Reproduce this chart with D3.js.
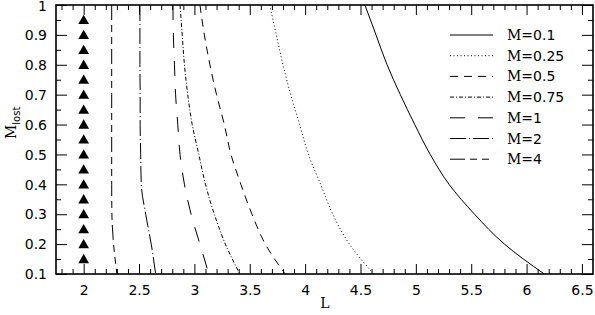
<!DOCTYPE html>
<html>
<head>
<meta charset="utf-8">
<script src="https://cdn.jsdelivr.net/npm/d3@7"></script>
<style>
body{margin:0;background:#fff}
svg{display:block}
.tick text{font-family:"DejaVu Sans",sans-serif;font-size:14px;fill:#000}
</style>
</head>
<body>
<script>
// M_lost sample rows shared by all curves
const mLost = [1, 0.9, 0.8, 0.7, 0.6, 0.5, 0.4, 0.3, 0.2, 0.1]

// L for each mass
const L_m01  = [4.54, 4.64, 4.74, 4.86, 4.99, 5.13, 5.30, 5.53, 5.80, 6.16]
const L_m025 = [3.68, 3.74, 3.80, 3.87, 3.95, 4.03, 4.14, 4.25, 4.40, 4.62]
const L_m05  = [3.05, 3.09, 3.14, 3.20, 3.27, 3.33, 3.42, 3.52, 3.64, 3.82]
const L_m075 = [2.87, 2.89, 2.91, 2.94, 2.98, 3.04, 3.10, 3.18, 3.28, 3.41]
const L_m1   = [2.806, 2.81, 2.82, 2.83, 2.85, 2.87, 2.91, 2.97, 3.05, 3.13]
const L_m2   = [2.508, 2.508, 2.508, 2.51, 2.51, 2.515, 2.52, 2.56, 2.61, 2.65]
const L_m4   = [2.253, 2.253, 2.253, 2.253, 2.253, 2.253, 2.253, 2.255, 2.27, 2.30]

// triangles at L = 2
const triL = 2
const triM = [0.95, 0.9, 0.85, 0.8, 0.75, 0.7, 0.65, 0.6, 0.55, 0.5, 0.45, 0.4, 0.35, 0.3, 0.25, 0.2, 0.15]

const xTicks = [2, 2.5, 3, 3.5, 4, 4.5, 5, 5.5, 6, 6.5]
const yTicks = [0.1, 0.2, 0.3, 0.4, 0.5, 0.6, 0.7, 0.8, 0.9, 1]

const series = [
    {name: "0.1",  L: L_m01,  dash: null},
    {name: "0.25", L: L_m025, dash: "1,2.5"},
    {name: "0.5",  L: L_m05,  dash: "8,6"},
    {name: "0.75", L: L_m075, dash: "4,2,1,2"},
    {name: "1",    L: L_m1,   dash: "15,13"},
    {name: "2",    L: L_m2,   dash: "16,3,1,3"},
    {name: "4",    L: L_m4,   dash: "15,5,7,5,7,5"}
]

const width = 595, height = 315
const pL = 56, pR = 593, pT = 5, pB = 274

const svg = d3.select("body").append("svg")
    .attr("width", width)
    .attr("height", height)

const x = d3.scaleLinear().domain([1.75, 6.6]).range([pL, pR])
const y = d3.scaleLinear().domain([0.1, 1]).range([pB, pT])

const xMinor = d3.range(1.8, 6.6, 0.1).filter(v => Math.abs(v*2 - Math.round(v*2)) > 0.01)
const yMinor = d3.range(0.15, 1, 0.1)

function axisStyle(g){
    g.select(".domain").remove()
    g.selectAll("line").attr("stroke", "#000").attr("stroke-width", 1)
}

// bottom
svg.append("g").attr("transform", `translate(0,${pB})`)
    .call(d3.axisBottom(x).tickValues(xTicks).tickSize(-10).tickPadding(11).tickFormat(d3.format("")))
    .call(axisStyle)
svg.append("g").attr("transform", `translate(0,${pB})`)
    .call(d3.axisBottom(x).tickValues(xMinor).tickSize(-5).tickFormat(""))
    .call(axisStyle)
// top
svg.append("g").attr("transform", `translate(0,${pT})`)
    .call(d3.axisTop(x).tickValues(xTicks).tickSize(-10).tickFormat(""))
    .call(axisStyle)
svg.append("g").attr("transform", `translate(0,${pT})`)
    .call(d3.axisTop(x).tickValues(xMinor).tickSize(-5).tickFormat(""))
    .call(axisStyle)
// left
svg.append("g").attr("transform", `translate(${pL},0)`)
    .call(d3.axisLeft(y).tickValues(yTicks).tickSize(-11).tickPadding(9).tickFormat(d3.format("")))
    .call(axisStyle)
    .call(g => g.selectAll(".tick text").attr("dy", d => d === 1 ? "0.42em" : "0.34em"))
svg.append("g").attr("transform", `translate(${pL},0)`)
    .call(d3.axisLeft(y).tickValues(yMinor).tickSize(-5).tickFormat(""))
    .call(axisStyle)
// right
svg.append("g").attr("transform", `translate(${pR},0)`)
    .call(d3.axisRight(y).tickValues(yTicks).tickSize(-11).tickFormat(""))
    .call(axisStyle)
svg.append("g").attr("transform", `translate(${pR},0)`)
    .call(d3.axisRight(y).tickValues(yMinor).tickSize(-5).tickFormat(""))
    .call(axisStyle)

svg.append("rect")
    .attr("x", pL).attr("y", pT)
    .attr("width", pR-pL).attr("height", pB-pT)
    .attr("fill", "none").attr("stroke", "#000").attr("stroke-width", 1.6)

svg.append("clipPath").attr("id", "clip")
    .append("rect").attr("x", pL).attr("y", pT).attr("width", pR-pL).attr("height", pB-pT)

const line = d3.line()
    .x(d => x(d[0]))
    .y(d => y(d[1]))
    .curve(d3.curveMonotoneY)

svg.append("g").attr("clip-path", "url(#clip)")
    .selectAll("path")
    .data(series)
    .join("path")
    .attr("d", s => line(s.L.map((l, i) => [l, mLost[i]])))
    .attr("fill", "none")
    .attr("stroke", "#000")
    .attr("stroke-width", 1)
    .attr("stroke-dasharray", s => s.dash)

svg.append("g")
    .selectAll("path")
    .data(triM)
    .join("path")
    .attr("d", d3.symbol(d3.symbolTriangle, 50))
    .attr("transform", d => `translate(${x(triL)},${y(d) + 1})`)
    .attr("fill", "#000")

// legend
const leg = svg.append("g")
series.forEach((s, i) => {
    const yy = 35 + i*20.7
    leg.append("line")
        .attr("x1", 450).attr("x2", 493)
        .attr("y1", yy).attr("y2", yy)
        .attr("stroke", "#000").attr("stroke-width", 1)
        .attr("stroke-dasharray", s.dash)
    const t = leg.append("text")
        .attr("x", 507).attr("y", yy + 5)
        .attr("font-family", "DejaVu Sans").attr("font-size", 14)
    t.append("tspan").attr("font-family", "DejaVu Serif").text("M")
    t.append("tspan").text("=" + s.name)
})

// axis titles
svg.append("text")
    .attr("x", 325).attr("y", 308)
    .attr("text-anchor", "middle")
    .attr("font-family", "DejaVu Serif").attr("font-size", 14)
    .text("L")

const yl = svg.append("text")
    .attr("transform", "translate(16,139) rotate(-90)")
    .attr("font-family", "DejaVu Serif").attr("font-size", 14)
yl.append("tspan").text("M")
yl.append("tspan").attr("font-size", 10).attr("dy", 4).attr("font-family", "DejaVu Sans").text("lost")
</script>
</body>
</html>
